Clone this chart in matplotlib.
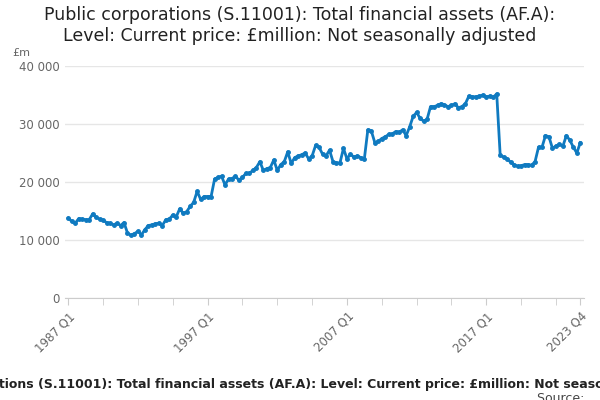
import matplotlib
matplotlib.use("Agg")
import matplotlib.pyplot as plt
import numpy as np

values = [
13.8,13.2,12.9,13.7, 13.6,13.5,13.5,14.5, 13.9,13.6,13.4,13.0, 12.9,12.6,12.9,12.5,
13.0,11.2,10.8,11.1, 11.5,10.9,11.8,12.5, 12.6,12.8,12.9,12.5, 13.5,13.6,14.3,14.0,
15.4,14.6,14.9,15.8, 16.5,18.4,17.0,17.5, 17.5,17.5,20.5,20.8, 21.0,19.5,20.5,20.6,
21.0,20.3,20.8,21.5, 21.5,22.0,22.5,23.5, 22.0,22.3,22.5,23.8, 22.0,23.0,23.5,25.2,
23.2,24.2,24.5,24.7, 25.0,24.0,24.5,26.3, 26.0,24.8,24.5,25.5, 23.5,23.3,23.3,25.8,
24.0,24.8,24.3,24.5, 24.2,24.0,29.0,28.8, 26.8,27.0,27.5,27.8, 28.2,28.3,28.7,28.6,
29.0,28.0,29.5,31.3, 32.0,31.0,30.5,30.8, 33.0,33.0,33.2,33.5, 33.3,33.0,33.2,33.5,
32.8,33.0,33.5,34.8, 34.7,34.7,34.8,35.0, 34.7,34.8,34.6,35.2, 24.6,24.3,24.0,23.4,
23.0,22.7,22.8,23.0, 23.0,22.9,23.5,26.0, 26.0,28.0,27.8,25.8, 26.2,26.5,26.2,28.0,
27.2,26.0,25.0,26.8]
values = [v*1000 for v in values]
tick_labels = ["1987 Q1", "1997 Q1", "2007 Q1", "2017 Q1", "2023 Q4"]
tick_pos = [0, 40, 80, 120, 147]

fig = plt.figure(figsize=(6, 4), dpi=100)
ax = fig.add_axes([0.108, 0.255, 0.865, 0.58])
x = np.arange(len(values))
ax.plot(x, values, color="#0f7ac0", lw=2, marker="o", ms=2.5)
ax.set_xlim(-1, 148)
ax.set_ylim(0, 40000)
ax.set_yticks([0, 10000, 20000, 30000, 40000])
ax.set_yticklabels(["0", "10 000", "20 000", "30 000", "40 000"])
ax.set_xticks(tick_pos)
ax.set_xticklabels(tick_labels, rotation=45, ha="right", rotation_mode="anchor")
ax.set_xticks(np.arange(0, 148, 10), minor=True)
ax.tick_params(axis="x", which="both", colors="#cccccc", labelcolor="#666666", labelsize=8.5, length=5)
ax.tick_params(axis="y", length=0, labelcolor="#666666", labelsize=8.5)
ax.grid(axis="y", color="#e6e6e6", lw=1)
for s in ["top", "right", "left"]:
    ax.spines[s].set_visible(False)
ax.spines["bottom"].set_color("#cccccc")
ax.set_axisbelow(True)
fig.text(0.5, 0.985, "Public corporations (S.11001): Total financial assets (AF.A):\nLevel: Current price: £million: Not seasonally adjusted",
         ha="center", va="top", fontsize=12.5, color="#222222", linespacing=1.2)
fig.text(0.02, 0.86, "£m", fontsize=8, color="#666666")
fig.text(0.5, 0.03, "Public corporations (S.11001): Total financial assets (AF.A): Level: Current price: £million: Not seasonally adjusted",
         ha="center", fontsize=9, fontweight="bold", color="#222222")
fig.text(0.98, -0.005, "Source: ", ha="right", fontsize=9, color="#444444")
fig.savefig("out.png")
